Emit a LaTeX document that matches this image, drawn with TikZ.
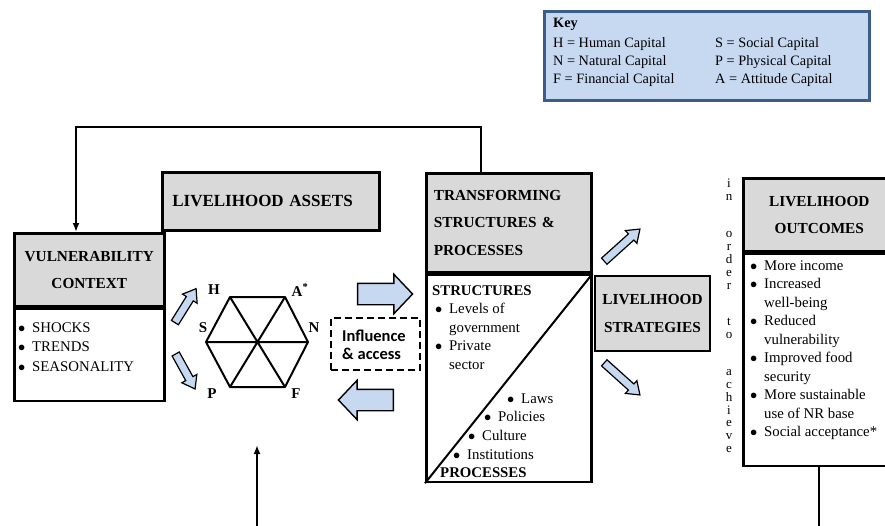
\documentclass[tikz,border=0pt]{standalone}
\usepackage{fontspec}
\setmainfont{Liberation Serif}
\newfontfamily\inflfont{Carlito}
\usetikzlibrary{arrows.meta,shapes.arrows,positioning}

\definecolor{hdrgray}{RGB}{217,217,217}
\definecolor{keyfill}{RGB}{198,217,241}
\definecolor{keyedge}{RGB}{60,92,138}
\definecolor{arrowfill}{RGB}{198,217,241}

\newcommand{\itm}{\makebox[14pt][l]{$\bullet$}}
\newcommand{\ind}{\makebox[14pt]{}}
\newcommand{\hdrfont}{\fontsize{15.3}{27.5}\selectfont\bfseries}
\newcommand{\txtfont}{\fontsize{14.8}{18.5}\selectfont}

\tikzset{
  box/.style={draw, line width=2.6pt, inner sep=0pt},
  hdr/.style={box, fill=hdrgray, font=\hdrfont, align=center},
  body/.style={box, fill=white},
  txt/.style={font=\txtfont, align=left, inner sep=0pt},
  link/.style={line width=2.2pt},
  hexline/.style={line width=2pt, line join=round},
  caplbl/.style={font=\fontsize{15}{15}\selectfont\bfseries, inner sep=0pt},
  vtxt/.style={font=\fontsize{13}{13}\selectfont, inner sep=0pt, anchor=base},
  blockarrow/.style={single arrow, draw=black, fill=arrowfill, inner xsep=0pt},
  bigarrow/.style={blockarrow, line width=1.4pt, inner ysep=10pt, single arrow head extend=9pt, single arrow tip angle=93, minimum height=55pt},
  smallarrow/.style={blockarrow, line width=1.2pt, inner ysep=3.5pt, single arrow head extend=4.5pt, single arrow tip angle=72, minimum height=40pt},
  midarrow/.style={blockarrow, line width=1.2pt, inner ysep=3.5pt, single arrow head extend=4.5pt, single arrow tip angle=72, minimum height=48pt},
}

\begin{document}
\begin{tikzpicture}[x=1pt,y=-1pt]
\clip (0,0) rectangle (885,525);

\node[draw=keyedge, line width=2.8pt, fill=keyfill, anchor=north west, minimum width=325, minimum height=89] (key) at (543,10) {};
\node[inner sep=0pt, anchor=north west, font=\fontsize{14.3}{18}\selectfont] (keytxt) at (553,15) {%
  \begin{tabular}{@{}p{162pt}@{}l@{}}
  \textbf{Key} & \\[2pt]
  H = Human Capital & S = Social Capital\\
  N = Natural Capital & P = Physical Capital\\
  F = Financial Capital & A = Attitude Capital
  \end{tabular}};

\node[hdr, anchor=north west, minimum width=150, minimum height=73] (vc) at (13,232) {VULNERABILITY\\CONTEXT};
\node[body, anchor=north, minimum width=150, minimum height=92] (vcb) at (vc.south) {};
\node[txt, anchor=north west, font=\fontsize{14.8}{19.5}\selectfont] (vctxt) at (18,322) {\itm SHOCKS\\\itm TRENDS\\\itm SEASONALITY};

\node[hdr, anchor=north west, minimum width=217, minimum height=58, text width=197, align=left, font=\fontsize{17}{20}\selectfont\bfseries] (la) at (161,171) {LIVELIHOOD ASSETS};

\coordinate (H) at (230,297);
\coordinate (A) at (285,297);
\coordinate (N) at (308,342);
\coordinate (F) at (285,387);
\coordinate (P) at (230,387);
\coordinate (S) at (206,342);
\draw[hexline] (H) -- (A) -- (N) -- (F) -- (P) -- (S) -- cycle;
\draw[hexline] (H) -- (F) (A) -- (P) (S) -- (N);
\node[caplbl] (lH) at (214,290) {H};
\node[caplbl] (lA) at (300,290) {A\textsuperscript{*}};
\node[caplbl] (lN) at (314,328) {N};
\node[caplbl] (lS) at (203,328) {S};
\node[caplbl] (lP) at (212,394) {P};
\node[caplbl] (lF) at (296,394) {F};

\node[smallarrow, rotate=58] (upH) at (184,308) {};
\node[smallarrow, rotate=-61] (dnP) at (184,369) {};

\node[bigarrow] (toT) at (380,294) {};
\node[bigarrow, rotate=180] (toA) at (371,400) {};
\node[draw, dashed, line width=2.2pt, dash pattern=on 7pt off 4pt, minimum width=89, minimum height=52, inner sep=0pt] (ia) at (375.5,344) {};
\node[font=\fontsize{16.5}{18}\selectfont\inflfont\bfseries, align=left, inner sep=0pt] (iatxt) at (374,345) {Influence\\\& access};

\node[hdr, anchor=north west, minimum width=165, minimum height=99, text width=150, align=left] (tsp) at (425,172) {TRANSFORMING\\STRUCTURES \&\\PROCESSES};
\node[body, anchor=north, minimum width=165, minimum height=207] (tspb) at (tsp.south) {};
\draw[line width=2pt] (tspb.south west) -- (tspb.north east);
\node[txt, anchor=north west] (st) at (432,285) {\textbf{STRUCTURES}\\\hspace*{3pt}\itm Levels of\\\hspace*{3pt}\ind government\\\hspace*{3pt}\itm Private\\\hspace*{3pt}\ind sector};
\foreach \x/\y/\t in {507/403/Laws, 484/421/Policies, 468/440/Culture, 453/459/Institutions}
  \node[txt, anchor=base west] (pr-\t) at (\x,\y) {\itm\t};
\node[txt, anchor=base west, font=\txtfont\bfseries] (pr) at (440,477) {PROCESSES};

\node[hdr, minimum width=115, minimum height=75] (ls) at (652.5,313.5) {LIVELIHOOD\\STRATEGIES};
\node[midarrow, rotate=42] (upO) at (620,247) {};
\node[midarrow, rotate=-42] (dnO) at (620,377) {};

\foreach \c/\y [count=\k] in {i/183,n/196,o/233,r/246,d/259,e/272,r/285,t/321,o/334,a/371,c/384,h/397,i/410,e/422,v/435,e/448}
  \node[vtxt] (v\k) at (729,\y+4) {\c};

\node[hdr, anchor=north west, minimum width=152, minimum height=73] (lo) at (742,177) {LIVELIHOOD\\OUTCOMES};
\node[body, anchor=north, minimum width=152, minimum height=212] (lob) at (lo.south) {};
\node[txt, anchor=north west] (lotxt) at (750,260) {\itm More income\\\itm Increased\\\ind well-being\\\itm Reduced\\\ind vulnerability\\\itm Improved food\\\ind security\\\itm More sustainable\\\ind use of NR base\\\itm Social acceptance*};

\draw[link, -{Latex[length=9pt,width=7pt]}] ([xshift=56pt]tsp.north west) -- ++(0,-45) -| ([xshift=63pt]vc.north west);
\coordinate (ain) at (257,445);
\draw[link, -{Latex[length=9pt,width=7pt]}] (lob.south) -- ++(0,80) -| (ain);
\end{tikzpicture}
\end{document}
